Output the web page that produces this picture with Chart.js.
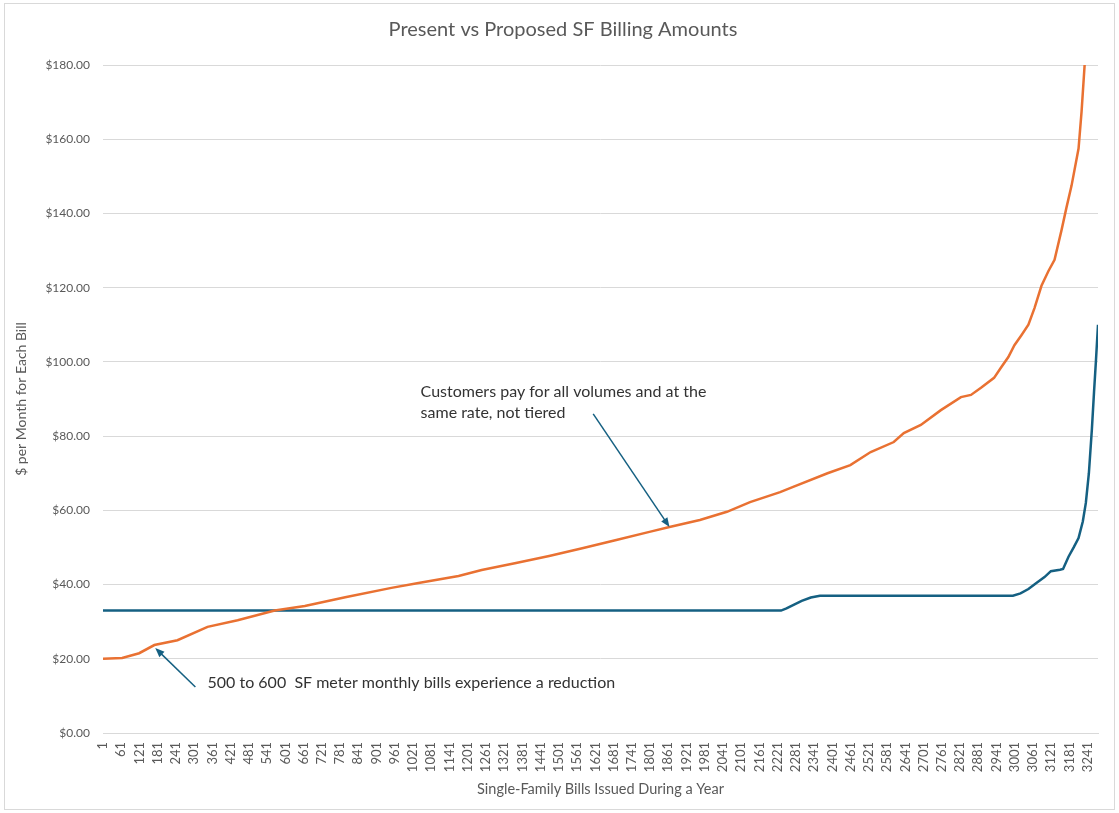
<!DOCTYPE html>
<html>
<head>
<meta charset="utf-8">
<title>Present vs Proposed SF Billing Amounts</title>
<script src="https://cdn.jsdelivr.net/npm/chart.js@4.4.1/dist/chart.umd.min.js"></script>
<style>
  html, body { margin: 0; padding: 0; background: #fff; }
</style>
</head>
<body>
<canvas id="grafico" width="1119" height="813"></canvas>
<script>
// valores (numero da conta -> $ por mes)
const propostoContas = [1, 64, 120, 170, 246, 345, 444, 566, 665, 798, 950, 1039, 1171, 1247, 1360, 1469, 1578, 1690, 1799, 1865, 1965, 2054, 2130, 2229, 2272, 2385, 2460, 2527, 2603, 2636, 2692, 2758, 2824, 2857, 2890, 2933, 2956, 2980, 3000, 3023, 3046, 3066, 3089, 3112, 3132, 3155, 3171, 3188, 3211, 3221, 3231, 3240];
const propostoValores = [20, 20.2, 21.5, 23.7, 25, 28.6, 30.4, 33, 34.2, 36.6, 39.1, 40.4, 42.3, 43.9, 45.8, 47.7, 49.8, 52, 54.2, 55.5, 57.4, 59.6, 62.2, 64.9, 66.3, 70, 72.2, 75.7, 78.4, 80.8, 83, 87, 90.5, 91.1, 93, 95.7, 98.5, 101.3, 104.5, 107.2, 110, 114.5, 120.5, 124.5, 127.5, 135.5, 141.5, 147.5, 157.5, 167.5, 180, 195];

const atualContas = [1, 2232, 2250, 2275, 2300, 2330, 2360, 2995, 3020, 3046, 3070, 3099, 3120, 3150, 3160, 3178, 3195, 3211, 3225, 3235, 3245, 3255, 3262, 3268, 3275];
const atualValores = [33, 33, 33.6, 34.6, 35.6, 36.5, 37, 37, 37.6, 38.8, 40.3, 42, 43.6, 44, 44.2, 47.5, 50, 52.5, 57, 62, 70, 82, 92, 100, 110];

const rotulosX = [1, 61, 121, 181, 241, 301, 361, 421, 481, 541, 601, 661, 721, 781, 841, 901, 961, 1021, 1081, 1141, 1201, 1261, 1321, 1381, 1441, 1501, 1561, 1621, 1681, 1741, 1801, 1861, 1921, 1981, 2041, 2101, 2161, 2221, 2281, 2341, 2401, 2461, 2521, 2581, 2641, 2701, 2761, 2821, 2881, 2941, 3001, 3061, 3121, 3181, 3241];

const TITULO = "Present vs Proposed SF Billing Amounts";
const FONTE = "Lato, 'Open Sans', sans-serif";
const CINZA = "#595959";
const AZUL = "#156082";
const LARANJA = "#E97132";

// notas com seta, em coordenadas do grafico
const notas = [
  {
    linhas: ["Customers pay for all volumes and at the", "same rate, not tiered"],
    conta: 1046, valor: 91.9,
    seta: { de: [1614, 86], para: [1865, 55.5] },
  },
  {
    linhas: ["500 to 600  SF meter monthly bills experience a reduction"],
    conta: 345, valor: 13.5,
    seta: { de: [305, 12.4], para: [173, 22.9] },
  },
];

function pares(xs, ys) {
  return xs.map((x, i) => ({ x: x, y: ys[i] }));
}

// fundo, borda e titulo (centrado na area total, como no original)
const moldura = {
  id: "moldura",
  beforeDraw(chart) {
    const ctx = chart.ctx;
    ctx.save();
    ctx.fillStyle = "#ffffff";
    ctx.fillRect(0, 0, chart.width, chart.height);
    ctx.strokeStyle = "#d9d9d9";
    ctx.lineWidth = 1;
    ctx.strokeRect(4.5, 3.5, 1110, 806);
    ctx.fillStyle = CINZA;
    ctx.font = "20px " + FONTE;
    ctx.textAlign = "center";
    ctx.textBaseline = "middle";
    ctx.fillText(TITULO, 563, 30);
    ctx.restore();
  },
};

const anotacoes = {
  id: "anotacoes",
  afterDatasetsDraw(chart) {
    const ctx = chart.ctx;
    const sx = chart.scales.x;
    const sy = chart.scales.y;
    ctx.save();
    notas.forEach((n) => {
      const x1 = sx.getPixelForValue(n.seta.de[0]);
      const y1 = sy.getPixelForValue(n.seta.de[1]);
      const x2 = sx.getPixelForValue(n.seta.para[0]);
      const y2 = sy.getPixelForValue(n.seta.para[1]);
      const ang = Math.atan2(y2 - y1, x2 - x1);
      const tam = 10;
      ctx.strokeStyle = AZUL;
      ctx.fillStyle = AZUL;
      ctx.lineWidth = 1.5;
      ctx.beginPath();
      ctx.moveTo(x1, y1);
      ctx.lineTo(x2 - Math.cos(ang) * tam * 0.8, y2 - Math.sin(ang) * tam * 0.8);
      ctx.stroke();
      ctx.beginPath();
      ctx.moveTo(x2, y2);
      ctx.lineTo(x2 - tam * Math.cos(ang - 0.38), y2 - tam * Math.sin(ang - 0.38));
      ctx.lineTo(x2 - tam * Math.cos(ang + 0.38), y2 - tam * Math.sin(ang + 0.38));
      ctx.closePath();
      ctx.fill();

      ctx.fillStyle = "#333333";
      ctx.font = "16px " + FONTE;
      ctx.textAlign = "left";
      ctx.textBaseline = "middle";
      const tx = sx.getPixelForValue(n.conta);
      const ty = sy.getPixelForValue(n.valor);
      n.linhas.forEach((l, i) => ctx.fillText(l, tx, ty + i * 21));
    });
    ctx.restore();
  },
};

const ctx = document.getElementById("grafico").getContext("2d");
new Chart(ctx, {
  type: "line",
  data: {
    datasets: [
      {
        label: "Proposed",
        data: pares(propostoContas, propostoValores),
        borderColor: LARANJA,
        borderWidth: 2.5,
        pointRadius: 0,
        tension: 0,
      },
      {
        label: "Present",
        data: pares(atualContas, atualValores),
        borderColor: AZUL,
        borderWidth: 2.5,
        pointRadius: 0,
        tension: 0,
      },
    ],
  },
  options: {
    responsive: false,
    animation: false,
    layout: { padding: { left: 0, right: 21, top: 65, bottom: 0 } },
    plugins: {
      legend: { display: false },
      tooltip: { enabled: false },
      title: { display: false },
    },
    scales: {
      x: {
        type: "linear",
        min: 1,
        max: 3275,
        afterBuildTicks(scale) {
          scale.ticks = rotulosX.map((v) => ({ value: v }));
        },
        afterFit(scale) {
          scale.height = 80;
        },
        ticks: {
          autoSkip: false,
          minRotation: 90,
          maxRotation: 90,
          padding: 9,
          color: CINZA,
          font: { size: 13, family: FONTE },
          callback: (v) => String(v),
        },
        grid: { display: false, drawTicks: false },
        border: { display: true, color: "#d9d9d9" },
        title: {
          display: true,
          text: "Single-Family Bills Issued During a Year",
          color: CINZA,
          font: { size: 14.5, family: FONTE },
          padding: { top: 0, bottom: 15 },
        },
      },
      y: {
        min: 0,
        max: 180,
        afterFit(scale) {
          scale.width = 103;
        },
        ticks: {
          stepSize: 20,
          padding: 13,
          color: CINZA,
          font: { size: 12, family: FONTE },
          callback: (v) => "$" + v.toFixed(2),
        },
        grid: { color: "#d9d9d9", drawTicks: false, lineWidth: 1 },
        border: { display: false },
        title: {
          display: true,
          text: "$ per Month for Each Bill",
          color: CINZA,
          font: { size: 14, family: FONTE },
          padding: { top: 13, bottom: 0 },
        },
      },
    },
  },
  plugins: [moldura, anotacoes],
});
</script>
</body>
</html>
